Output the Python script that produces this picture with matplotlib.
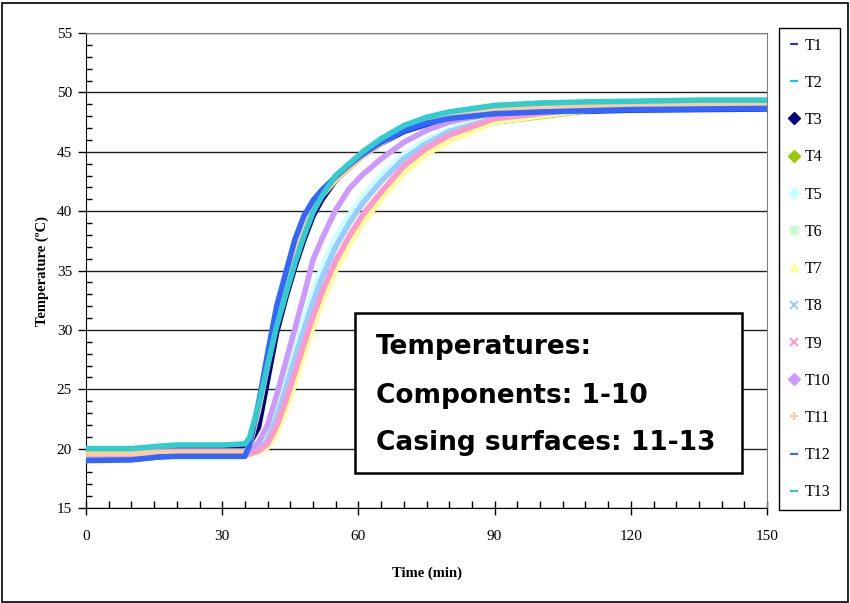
import matplotlib
matplotlib.use("agg")
import matplotlib.pyplot as plt
from matplotlib.lines import Line2D
from matplotlib.patches import Rectangle

# time grid (min) and readings (degC)
time_min = [0, 10, 16, 20, 30, 35, 36, 38, 40, 42, 44, 46, 48, 50, 52, 55,
            58, 61, 65, 70, 75, 80, 90, 100, 110, 120, 135, 150]

t1 = [19.1, 19.1, 19.3, 19.4, 19.4, 19.4, 20.2, 23.4, 27.6, 31.6, 34.5, 37.3, 39.4, 40.7,
      41.7, 42.8, 43.8, 44.7, 45.7, 46.7, 47.3, 47.7, 48.15, 48.3, 48.4, 48.5, 48.55, 48.6]
t2 = [19.9, 19.9, 20.1, 20.2, 20.2, 20.3, 20.7, 23.3, 26.7, 30.0, 32.8, 35.4, 37.7, 39.7,
      41.1, 42.7, 43.8, 44.8, 46.0, 47.1, 47.8, 48.25, 48.8, 49.0, 49.1, 49.15, 49.25, 49.25]
t3 = [19.9, 19.9, 20.1, 20.2, 20.2, 20.2, 20.4, 21.8, 25.8, 29.8, 32.7, 35.3, 37.6, 39.6,
      41.0, 42.6, 43.7, 44.7, 45.9, 47.0, 47.7, 48.2, 48.7, 48.95, 49.05, 49.1, 49.2, 49.2]
t4 = [19.5, 19.5, 19.5, 19.5, 19.5, 19.5, 19.55, 19.8, 20.3, 21.8, 23.9, 26.3, 28.7, 31.0,
      33.1, 35.7, 37.8, 39.6, 41.5, 43.6, 45.1, 46.1, 47.5, 47.95, 48.45, 48.7, 48.9, 48.95]
t5 = [19.6, 19.6, 19.6, 19.6, 19.6, 19.6, 19.7, 20.0, 21.0, 23.2, 25.9, 28.5, 31.0, 33.3,
      35.3, 37.8, 39.7, 41.3, 43.0, 44.8, 46.0, 46.9, 47.9, 48.4, 48.7, 48.85, 49.0, 49.05]
t6 = [19.5, 19.5, 19.5, 19.55, 19.55, 19.55, 19.6, 19.8, 20.3, 21.7, 23.8, 26.2, 28.6, 30.9,
      33.0, 35.6, 37.7, 39.5, 41.4, 43.6, 45.1, 46.2, 47.7, 48.1, 48.55, 48.75, 48.9, 48.95]
t7 = [19.5, 19.5, 19.5, 19.5, 19.5, 19.5, 19.5, 19.7, 20.1, 21.3, 23.2, 25.5, 27.9, 30.2,
      32.3, 35.0, 37.2, 39.0, 41.0, 43.2, 44.8, 45.9, 47.5, 48.0, 48.5, 48.7, 48.9, 48.95]
t8 = [19.6, 19.6, 19.6, 19.6, 19.6, 19.6, 19.65, 19.9, 20.7, 22.6, 25.0, 27.6, 30.0, 32.3,
      34.4, 37.0, 39.0, 40.7, 42.5, 44.4, 45.7, 46.7, 47.8, 48.3, 48.65, 48.8, 48.95, 49.0]
t9 = [19.5, 19.5, 19.5, 19.5, 19.5, 19.5, 19.55, 19.8, 20.4, 21.9, 24.0, 26.4, 28.8, 31.1,
      33.2, 35.8, 37.9, 39.7, 41.6, 43.8, 45.3, 46.4, 47.8, 48.2, 48.6, 48.8, 48.95, 49.0]
t10 = [19.7, 19.7, 19.8, 19.8, 19.8, 19.8, 19.85, 20.5, 22.0, 24.5, 27.3, 30.1, 32.9, 35.9,
       37.7, 40.1, 41.9, 43.1, 44.4, 45.8, 46.8, 47.5, 48.3, 48.7, 48.9, 49.0, 49.05, 49.1]
t11 = [19.6, 19.6, 19.65, 19.7, 19.7, 19.7, 20.2, 23.2, 27.0, 30.8, 33.8, 36.5, 38.7, 40.2,
       41.3, 42.6, 43.6, 44.6, 45.7, 46.9, 47.6, 48.1, 48.55, 48.75, 48.85, 48.9, 48.95, 49.0]
t12 = [19.0, 19.05, 19.3, 19.35, 19.35, 19.35, 20.3, 23.8, 28.0, 32.0, 34.8, 37.6, 39.6, 40.9,
       41.8, 42.9, 43.9, 44.8, 45.8, 46.8, 47.4, 47.8, 48.2, 48.35, 48.45, 48.55, 48.6, 48.65]
t13 = [20.0, 20.0, 20.2, 20.3, 20.3, 20.4, 20.9, 23.6, 27.0, 30.3, 33.0, 35.6, 37.9, 39.9,
       41.3, 43.0, 44.0, 45.0, 46.1, 47.2, 47.9, 48.35, 48.9, 49.1, 49.2, 49.25, 49.35, 49.35]

series = [t1, t2, t3, t4, t5, t6, t7, t8, t9, t10, t11, t12, t13]
labels = [f"T{i}" for i in range(1, 14)]
colors = ["#1a33ff", "#00ccff", "#000080", "#99cc00", "#ccffff", "#ccffcc", "#ffff99",
          "#99ccff", "#ff99cc", "#cc99ff", "#ffcc99", "#3366ff", "#33cccc"]
markers = ["_", "_", "D", "D", "D", "s", "^", "x", "x", "D", "+", "_", "_"]

serif = "Liberation Serif"

fig = plt.figure(figsize=(8.5, 6.03), dpi=100)
ax = fig.add_axes([86 / 850, 1 - 508 / 603, (767 - 86) / 850, (508 - 33) / 603])

for values, color in zip(series, colors):
    ax.plot(time_min, values, color=color, linewidth=4.0, solid_capstyle="butt",
            solid_joinstyle="round", zorder=3)

ax.set_xlim(0, 150)
ax.set_ylim(15, 55)
ax.set_xticks(range(0, 151, 30))
ax.set_xticks(range(0, 151, 5), minor=True)
ax.set_yticks(range(15, 56, 5))
ax.set_yticks(range(15, 56, 1), minor=True)
ax.yaxis.grid(True, which="major", color="#222222", linewidth=1.0, zorder=1)
ax.set_axisbelow(True)

ax.tick_params(axis="x", which="major", direction="inout", length=10, width=1,
               pad=11, labelsize=11)
ax.tick_params(axis="x", which="minor", direction="in", length=5, width=1)
ax.tick_params(axis="y", which="major", direction="out", length=6, width=1,
               pad=4, labelsize=11)
ax.tick_params(axis="y", which="minor", direction="in", length=4, width=1)
for label in ax.get_xticklabels() + ax.get_yticklabels():
    label.set_fontfamily(serif)

ax.spines["left"].set_color("black")
ax.spines["bottom"].set_color("black")
ax.spines["top"].set_color("#808080")
ax.spines["right"].set_color("#808080")

ax.set_xlabel("Time (min)", fontfamily=serif, fontweight="bold", fontsize=10.5,
              labelpad=17)
ax.set_ylabel("Temperature (\u00baC)", fontfamily=serif, fontweight="bold",
              fontsize=10.5, labelpad=6)

# legend: markers only, as in the spreadsheet chart
handles = [Line2D([], [], linestyle="none", marker=m, color=c, markersize=6,
                  markeredgewidth=1.5 if m in ("_", "x", "+") else 1)
           for m, c in zip(markers, colors)]
leg = fig.legend(handles, labels, loc="upper left",
                 bbox_to_anchor=(779 / 850, 1 - 28 / 603),
                 prop={"family": serif, "size": 11.5}, labelspacing=1.33,
                 handlelength=0.7, handletextpad=0.3, borderpad=0.6,
                 fancybox=False, framealpha=1, edgecolor="black",
                 borderaxespad=0)
leg.get_frame().set_linewidth(1.0)

# annotation box
box = Rectangle((355 / 850, 1 - 473 / 603), (742 - 355) / 850, (473 - 313) / 603,
                transform=fig.transFigure, facecolor="white", edgecolor="black",
                linewidth=1.8, zorder=5)
fig.patches.append(box)
for text, y in [("Temperatures:", 347), ("Components: 1-10", 396),
                ("Casing surfaces: 11-13", 443)]:
    fig.text(376 / 850, 1 - y / 603, text, fontfamily="DejaVu Sans", fontweight="bold",
             fontsize=19, va="center", ha="left", zorder=6)

# outer frame of the chart
fig.patches.append(Rectangle((1.5 / 850, 1.5 / 603), 846 / 850, 599 / 603,
                             transform=fig.transFigure, fill=False,
                             edgecolor="black", linewidth=1.2))

fig.savefig("out.png", dpi=100)
